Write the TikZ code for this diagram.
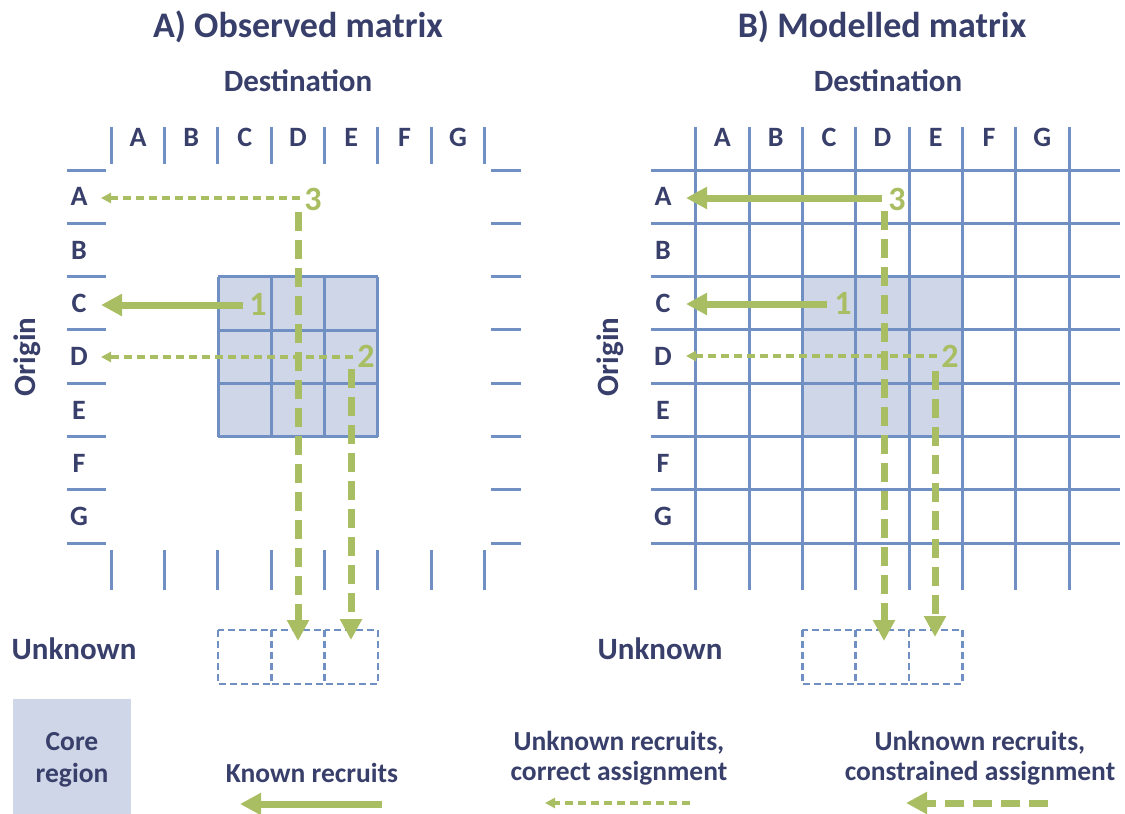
\documentclass[tikz,border=0pt]{standalone}
\usepackage{fontspec}
\setmainfont{Carlito}
\usetikzlibrary{arrows.meta}
\definecolor{txt}{HTML}{383F6A}
\definecolor{gridblue}{HTML}{7090C3}
\definecolor{corefill}{HTML}{CED6E7}
\definecolor{grn}{HTML}{A9BE62}
\tikzset{
  base/.style={text=txt,inner sep=0pt,text depth=0pt},
  title/.style={base,text height=23pt,font=\fontsize{36}{40}\selectfont\bfseries},
  head/.style={base,text height=20pt,font=\fontsize{31}{34}\selectfont\bfseries},
  lbl/.style={base,text height=18pt,font=\fontsize{28}{32}\selectfont\bfseries},
  leg/.style={base,text height=17.6pt,font=\fontsize{27.5}{30}\selectfont\bfseries},
  num/.style={base,text=grn,text height=21.5pt,font=\fontsize{34}{38}\selectfont\bfseries},
  gline/.style={draw=gridblue,line width=3pt},
  unk/.style={draw=gridblue,line width=2.5pt,dash pattern=on 7pt off 4pt},
  known/.style={draw=grn,line width=7pt,-{Triangle[length=21pt,width=21pt]}},
  corr/.style={draw=grn,line width=3.5pt,dash pattern=on 8pt off 5pt,-{Triangle[length=10pt,width=10pt]}},
  constr/.style={draw=grn,line width=7pt,dash pattern=on 19pt off 9pt,-{Triangle[length=21pt,width=21pt]}}
}
\begin{document}
\begin{tikzpicture}[x=1pt,y=-1pt]
\useasboundingbox (0,0) rectangle (1125,814);

% ---------- Panel A ----------
\node[title] (tA) at (298,26) {A) Observed matrix};
\node[head] (dA) at (298,81) {Destination};
\node[head,rotate=90] (oA) at (25,357) {Origin};
% core region
\fill[corefill] (218,276.7) rectangle (378,436.7);
\foreach \i in {0,...,3} {
  \draw[gline] ({218+53.33*\i},276.7) -- ({218+53.33*\i},436.7);
  \draw[gline] (218,{276.7+53.33*\i}) -- (378,{276.7+53.33*\i});
}
% ticks
\foreach \i in {0,...,7} {
  \draw[gline] ({111.3+53.33*\i},127) -- ({111.3+53.33*\i},164);
  \draw[gline] ({111.3+53.33*\i},550) -- ({111.3+53.33*\i},590);
  \draw[gline] (67,{170+53.33*\i}) -- (106,{170+53.33*\i});
  \draw[gline] (491,{170+53.33*\i}) -- (521,{170+53.33*\i});
}
\foreach \l [count=\k from 0] in {A,B,C,D,E,F,G} {
  \node[lbl] (cA\l) at ({138+53.33*\k},137) {\l};
  \node[lbl] (rA\l) at (79,{196.7+53.33*\k}) {\l};
}
% unknown
\node[head] (uA) at (74,649) {Unknown};
\foreach \i in {0,1,2}
  \draw[unk] ({218+53.33*\i},630) rectangle ({218+53.33*(\i+1)},684);
% numbers and arrows
\node[num] (a1) at (258,305) {1};
\node[num] (a2) at (366,357) {2};
\node[num] (a3) at (313,200) {3};
\coordinate (a1s) at (243,305);  \coordinate (a1e) at (101,305);
\coordinate (a2s) at (353,357);  \coordinate (a2e) at (101,357);
\coordinate (a3s) at (300,198);  \coordinate (a3e) at (101,198);
\coordinate (a3v) at (298,212);  \coordinate (a3t) at (298,641);
\coordinate (a2v) at (351,369);  \coordinate (a2t) at (351,640);
\draw[constr] (a3v) -- (a3t);
\draw[constr] (a2v) -- (a2t);
\draw[corr] (a3s) -- (a3e);
\draw[corr] (a2s) -- (a2e);
\draw[known] (a1s) -- (a1e);

% ---------- Panel B ----------
\node[title] (tB) at (882,26) {B) Modelled matrix};
\node[head] (dB) at (888,81) {Destination};
\node[head,rotate=90] (oB) at (608,357) {Origin};
\fill[corefill] (802.3,276.7) rectangle (962.3,436.7);
\foreach \i in {0,...,7} {
  \draw[gline] ({695.7+53.33*\i},127) -- ({695.7+53.33*\i},590);
  \draw[gline] (651,{170+53.33*\i}) -- (1120,{170+53.33*\i});
}
\foreach \l [count=\k from 0] in {A,B,C,D,E,F,G} {
  \node[lbl] (cB\l) at ({722.4+53.33*\k},137) {\l};
  \node[lbl] (rB\l) at (663,{196.7+53.33*\k}) {\l};
}
\node[head] (uB) at (660,649) {Unknown};
\foreach \i in {0,1,2}
  \draw[unk] ({802.3+53.33*\i},630) rectangle ({802.3+53.33*(\i+1)},684);
\node[num] (b1) at (843,304) {1};
\node[num] (b2) at (950,357) {2};
\node[num] (b3) at (897,200) {3};
\coordinate (b1s) at (827,304);  \coordinate (b1e) at (686,304);
\coordinate (b2s) at (937,356);  \coordinate (b2e) at (686,356);
\coordinate (b3s) at (882,198);  \coordinate (b3e) at (686,198);
\coordinate (b3v) at (884,211);  \coordinate (b3t) at (884,641);
\coordinate (b2v) at (935,371);  \coordinate (b2t) at (935,637);
\draw[constr] (b3v) -- (b3t);
\draw[constr] (b2v) -- (b2t);
\draw[corr] (b2s) -- (b2e);
\draw[known] (b3s) -- (b3e);
\draw[known] (b1s) -- (b1e);

% ---------- Legend ----------
\fill[corefill] (13,699) rectangle (131,814);
\node[leg] (core1) at (72,742) {Core};
\node[leg] (core2) at (72,774) {region};
\node[leg] (k1) at (312,774) {Known recruits};
\coordinate (kls) at (382,804); \coordinate (kle) at (240,804);
\draw[known] (kls) -- (kle);
\node[leg] (c1) at (619,742) {Unknown recruits,};
\node[leg] (c2) at (619,772) {correct assignment};
\coordinate (cls) at (690,803); \coordinate (cle) at (545,803);
\draw[corr] (cls) -- (cle);
\node[leg] (s1) at (980,742) {Unknown recruits,};
\node[leg] (s2) at (980,772) {constrained assignment};
\coordinate (sls) at (1048,803); \coordinate (sle) at (906,803);
\draw[constr] (sls) -- (sle);
\end{tikzpicture}
\end{document}
